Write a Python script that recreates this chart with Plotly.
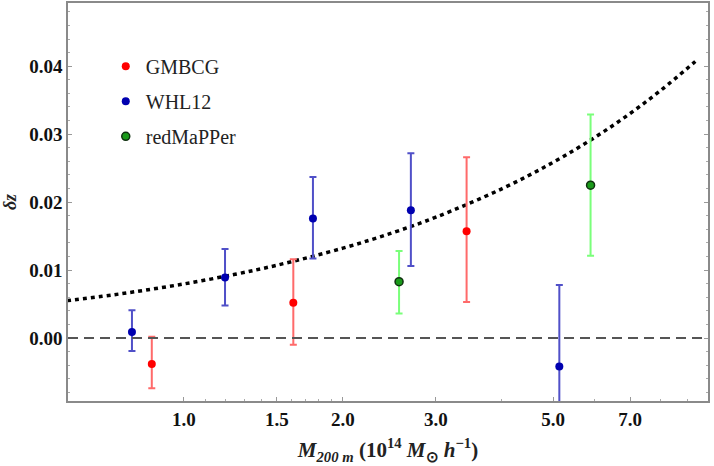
import plotly.graph_objects as go
import math

# ---- data ----
gmbcg_m = [0.869, 1.611, 3.43]
gmbcg_dz = [-0.0038, 0.0052, 0.0157]
gmbcg_hi = [0.0002, 0.0116, 0.0266]
gmbcg_lo = [-0.0074, -0.0010, 0.0053]

whl_m = [0.797, 1.196, 1.755, 2.69, 5.14]
whl_dz = [0.0009, 0.0089, 0.0176, 0.0188, -0.0042]
whl_hi = [0.0041, 0.0131, 0.0237, 0.0272, 0.0078]
whl_lo = [-0.0019, 0.0048, 0.0117, 0.0106, -0.0162]

redm_m = [2.555, 5.89]
redm_dz = [0.0083, 0.0225]
redm_hi = [0.0128, 0.0329]
redm_lo = [0.0036, 0.0121]

curve_m = [0.6, 0.7, 0.8, 1.0, 1.25, 1.5, 2.0, 2.5, 3.0, 4.0, 5.0, 6.0, 7.0, 8.0, 9.3]
curve_dz = [0.00549, 0.00614, 0.00677, 0.00797, 0.00938, 0.01072, 0.01323, 0.01557,
            0.01779, 0.02196, 0.02585, 0.02953, 0.03305, 0.03645, 0.04069]

x_tick_vals = [1.0, 1.5, 2.0, 3.0, 5.0, 7.0]
x_tick_text = ["1.0", "1.5", "2.0", "3.0", "5.0", "7.0"]
x_minor_vals = [1.1, 1.2, 1.3, 1.4, 1.6, 1.7, 1.8, 1.9, 4.0, 6.0, 8.0, 9.0]
y_tick_vals = [0.0, 0.01, 0.02, 0.03, 0.04]
y_tick_text = ["0.00", "0.01", "0.02", "0.03", "0.04"]

SERIF = "Liberation Serif"

fig = go.Figure()

fig.add_trace(go.Scatter(
    x=curve_m, y=curve_dz, mode="lines", showlegend=False, hoverinfo="skip",
    line=dict(color="black", width=3.5, dash="4px,4px", shape="spline"),
))

def series(name, m, dz, hi, lo, mcolor, ecolor, outline):
    fig.add_trace(go.Scatter(
        x=m, y=dz, mode="markers", name=name, legendgroup=name,
        marker=dict(size=8, color=mcolor, line=dict(color=outline, width=1.5 if outline != mcolor else 0)),
        error_y=dict(type="data", symmetric=False,
                     array=[h - d for h, d in zip(hi, dz)],
                     arrayminus=[d - l for d, l in zip(dz, lo)],
                     color=ecolor, thickness=2, width=3.5),
    ))

series("GMBCG", gmbcg_m, gmbcg_dz, gmbcg_hi, gmbcg_lo, "#ff0000", "#ff6a6a", "#ff0000")
series("WHL12", whl_m, whl_dz, whl_hi, whl_lo, "#0000b0", "#5050c8", "#0000b0")
series("redMaPPer", redm_m, redm_dz, redm_hi, redm_lo, "#1a9a1a", "#7aff7a", "#103010")

fig.add_shape(type="line", xref="paper", x0=0, x1=1, yref="y", y0=0, y1=0,
              line=dict(color="#555555", width=2, dash="10px,6px"), layer="above")

fig.update_layout(
    width=714, height=466,
    margin=dict(l=68, r=6, t=3, b=65),
    paper_bgcolor="white", plot_bgcolor="white",
    font=dict(family=SERIF, color="black"),
    legend=dict(x=0.059, y=0.89, xanchor="left", yanchor="top",
                font=dict(family=SERIF, size=20, color="#222222"),
                tracegroupgap=6, bgcolor="rgba(0,0,0,0)"),
    xaxis=dict(
        type="log", range=[math.log10(0.603), math.log10(9.83)],
        tickmode="array", tickvals=x_tick_vals, ticktext=x_tick_text,
        tickfont=dict(family=SERIF, size=19, weight="bold", color="#111"),
        ticks="inside", ticklen=4, tickcolor="#999", tickwidth=1,
        minor=dict(tickmode="array", tickvals=x_minor_vals, ticks="inside", ticklen=2.5, tickcolor="#aaa"),
        showline=True, linecolor="#8a8a8a", linewidth=1.5, mirror=True,
        showgrid=False, zeroline=False, automargin=False,
        title=dict(text="<i>M</i><sub><i>200 m</i></sub> (10<sup>14</sup> <i>M</i><sub>\u2299</sub> <i>h</i><sup>\u22121</sup>)",
                   font=dict(family=SERIF, size=21, weight="bold", color="#222"), standoff=14),
    ),
    yaxis=dict(
        range=[-0.00926, 0.0493],
        tickmode="array", tickvals=y_tick_vals, ticktext=y_tick_text,
        tickfont=dict(family=SERIF, size=19, weight="bold", color="#111"),
        ticks="inside", ticklen=4, tickcolor="#999", tickwidth=1,
        minor=dict(dtick=0.002, tick0=0, ticks="inside", ticklen=2.5, tickcolor="#aaa"),
        showline=True, linecolor="#8a8a8a", linewidth=1.5, mirror="allticks",
        showgrid=False, zeroline=False, automargin=False,
        title=dict(text="<i>\u03b4z</i>", font=dict(family=SERIF, size=18, weight="bold", color="#222"), standoff=12),
    ),
)

fig.write_html("out.html", config={"displayModeBar": False},
               post_script="document.body.style.margin='0';")
